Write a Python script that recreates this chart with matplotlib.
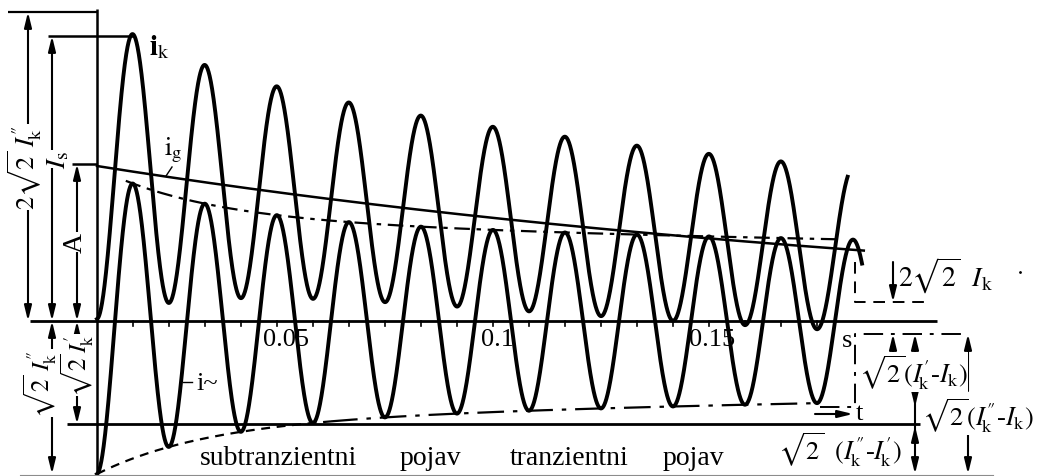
import numpy as np
import matplotlib.pyplot as plt

plt.rcParams['font.family'] = ['Liberation Serif', 'DejaVu Serif']
plt.rcParams['mathtext.fontset'] = 'stix'

# short-circuit current of a generator, 50 Hz, amplitudes in drawing units
f = 50.0
i_g0 = 155.0        # initial aperiodic (dc) component
T_g = 0.27
amp_k = 60.0        # sqrt2 * Ik
amp_tr = 43.0       # sqrt2 * (I'k - Ik)
amp_sub = 50.0      # sqrt2 * (I''k - I'k)
T_tr = 0.30
T_sub = 0.03
t_end_ik = 0.2085
t_end_ac = 0.2125
t_env_dash = 0.065
t_env_end = 0.200

tick_times = [0.01, 0.02, 0.03, 0.04, 0.05, 0.06, 0.07, 0.08, 0.09, 0.10,
              0.11, 0.12, 0.13, 0.14, 0.15, 0.16, 0.17, 0.18, 0.19, 0.20]
tick_labels = ['0.05', '0.1', '0.15']
tick_label_x = [286, 498, 712]

# symbols used in the labels
I2 = r"I^{\prime\!\prime}_{\!\rm k}"
I1 = r"I^{\prime}_{\!\rm k}"
Ik = r"I_{\rm k}"


def envelope(t):
    return amp_k + amp_tr * np.exp(-t / T_tr) + amp_sub * np.exp(-t / T_sub)


def i_dc(t):
    return i_g0 * np.exp(-t / T_g)


def i_ac(t):
    return -envelope(t) * np.cos(2 * np.pi * f * t)


fig = plt.figure(figsize=(10.37, 4.77), dpi=100)
ax = fig.add_axes([0, 0, 1, 1])
ax.axis('off')
ax.set_xlim(-97 / 3600, 940 / 3600)
ax.set_ylim(-155, 322)

# layer for axes, dimension lines and labels (pixel units)
ann = fig.add_axes([0, 0, 1, 1])
ann.axis('off')
ann.set_xlim(0, 1037)
ann.set_ylim(477, 0)

t1 = np.linspace(0, t_end_ik, 3000)
t2 = np.linspace(0, t_end_ac, 3000)
ax.plot(t1, i_dc(t1) + i_ac(t1), color='k', lw=2.8, solid_joinstyle='round')
ax.plot(t2, i_ac(t2), color='k', lw=2.8, solid_joinstyle='round')

# aperiodic component and envelopes
tg = np.linspace(0, 0.213, 400)
ax.plot(tg, i_dc(tg), color='k', lw=1.8)
tu = np.linspace(0.008, 0.207, 400)
ax.plot(tu, envelope(tu), color='k', lw=1.6, dashes=(7, 3, 2, 3))
ta = np.linspace(0, t_env_dash, 200)
ax.plot(ta, -envelope(ta), color='k', lw=1.6, dashes=(4, 3))
tb = np.linspace(t_env_dash, t_env_end, 300)
ax.plot(tb, -envelope(tb), color='k', lw=1.6, dashes=(12, 4, 2, 4))

for t in tick_times:
    ax.plot([t, t], [0, -5], color='k', lw=1.2)

K = dict(color='k', solid_capstyle='butt')

# axes and reference levels
ann.plot([97, 97], [10, 477], lw=1.8, **K)
ann.plot([30, 937], [322, 322], lw=2.0, **K)
ann.plot([67, 920], [425, 425], lw=2.0, **K)
ann.plot([20, 993], [475.5, 475.5], color='0.55', lw=0.8)
ann.plot([8, 97], [13, 13], lw=1.6, **K)
ann.plot([48, 133], [37, 37], lw=1.8, **K)
ann.plot([72, 97], [165, 165], lw=1.8, **K)


def arrow(x0, y0, x1, y1):
    ann.annotate('', xy=(x1, y1), xytext=(x0, y0),
                 arrowprops=dict(arrowstyle='-|>,head_length=0.9,head_width=0.22',
                                 color='k', lw=1.5, shrinkA=0, shrinkB=0,
                                 mutation_scale=10))


WB = dict(fc='white', ec='none', pad=0.1)

# left dimensions
arrow(28, 170, 28, 13)
arrow(28, 170, 28, 322)
arrow(52, 180, 52, 37)
arrow(52, 180, 52, 322)
arrow(52, 390, 52, 322)
arrow(52, 390, 52, 475)
arrow(77, 240, 77, 165)
arrow(77, 240, 77, 322)
arrow(77, 370, 77, 322)
arrow(77, 370, 77, 425)

ann.text(25, 168, r'$2\sqrt{2}\ ' + I2 + '$', rotation=90,
         ha='center', va='center', fontsize=19, bbox=WB)
ann.text(59, 160, r'$I_{\rm s}$', rotation=90, ha='center', va='center',
         fontsize=20, bbox=WB)
ann.text(75, 243, 'A', rotation=90, ha='center', va='center', fontsize=20, bbox=WB)
ann.text(40, 384, r'$\sqrt{2}\ ' + I2 + '$', rotation=90,
         ha='center', va='center', fontsize=18, bbox=WB)
ann.text(77, 366, r'$\sqrt{2}\,' + I1 + '$', rotation=90,
         ha='center', va='center', fontsize=18, bbox=WB)

# curve labels
ann.text(149, 47, r'$\mathbf{i}_{\rm k}$', ha='left', va='center', fontsize=21)
ann.text(164, 150, r'$\rm i_g$', ha='left', va='center', fontsize=19)
ann.plot([172, 166], [168, 177], color='k', lw=1.0)
ann.plot([183, 192], [383, 383], color='k', lw=1.0)
ann.text(196, 384, 'i~', ha='left', va='center', fontsize=19)

for lab, x in zip(tick_labels, tick_label_x):
    ann.text(x, 340, lab, ha='center', va='center', fontsize=19)
ann.text(842, 341, 's', ha='left', va='center', fontsize=19)

ann.text(200, 465, 'subtranzientni', ha='left', va='baseline', fontsize=20)
ann.text(400, 465, 'pojav', ha='left', va='baseline', fontsize=20)
ann.text(510, 465, 'tranzientni', ha='left', va='baseline', fontsize=20)
ann.text(663, 465, 'pojav', ha='left', va='baseline', fontsize=20)

# right dimensions
ann.plot([855, 855, 930], [263, 303, 303], color='k', lw=1.4, dashes=(6, 4))
arrow(893, 263, 893, 303)
ann.text(898, 276, r'$2\sqrt{2}\ \ ' + Ik + '$', ha='left', va='center', fontsize=20)
ann.plot([1020], [273], 'k.', ms=2)

ann.plot([820, 855, 855, 968], [408, 408, 335, 335], color='k', lw=1.4,
         dashes=(10, 4, 2, 4))
arrow(893, 358, 893, 335)
arrow(915, 358, 915, 335)
arrow(968, 392, 968, 335)
ann.plot([915, 915], [395, 445], lw=1.5, **K)
arrow(915, 395, 915, 408)
arrow(915, 445, 915, 427)
arrow(915, 445, 915, 475)
arrow(968, 433, 968, 475)

ann.text(913, 373, r'$\sqrt{2}(' + I1 + '$-$' + Ik + ')$', ha='center',
         va='center', fontsize=19, bbox=WB)
ann.text(922, 416, r'$\sqrt{2}(' + I2 + '$-$' + Ik + ')$', ha='left',
         va='center', fontsize=19, bbox=WB)
ann.text(778, 450, r'$\sqrt{2}\ \ (' + I2 + '$-$' + I1 + ')$',
         ha='left', va='center', fontsize=19)

arrow(815, 415, 853, 415)
ann.text(856, 414, 't', ha='left', va='center', fontsize=19)

fig.savefig('out.png', dpi=100, facecolor='white')
